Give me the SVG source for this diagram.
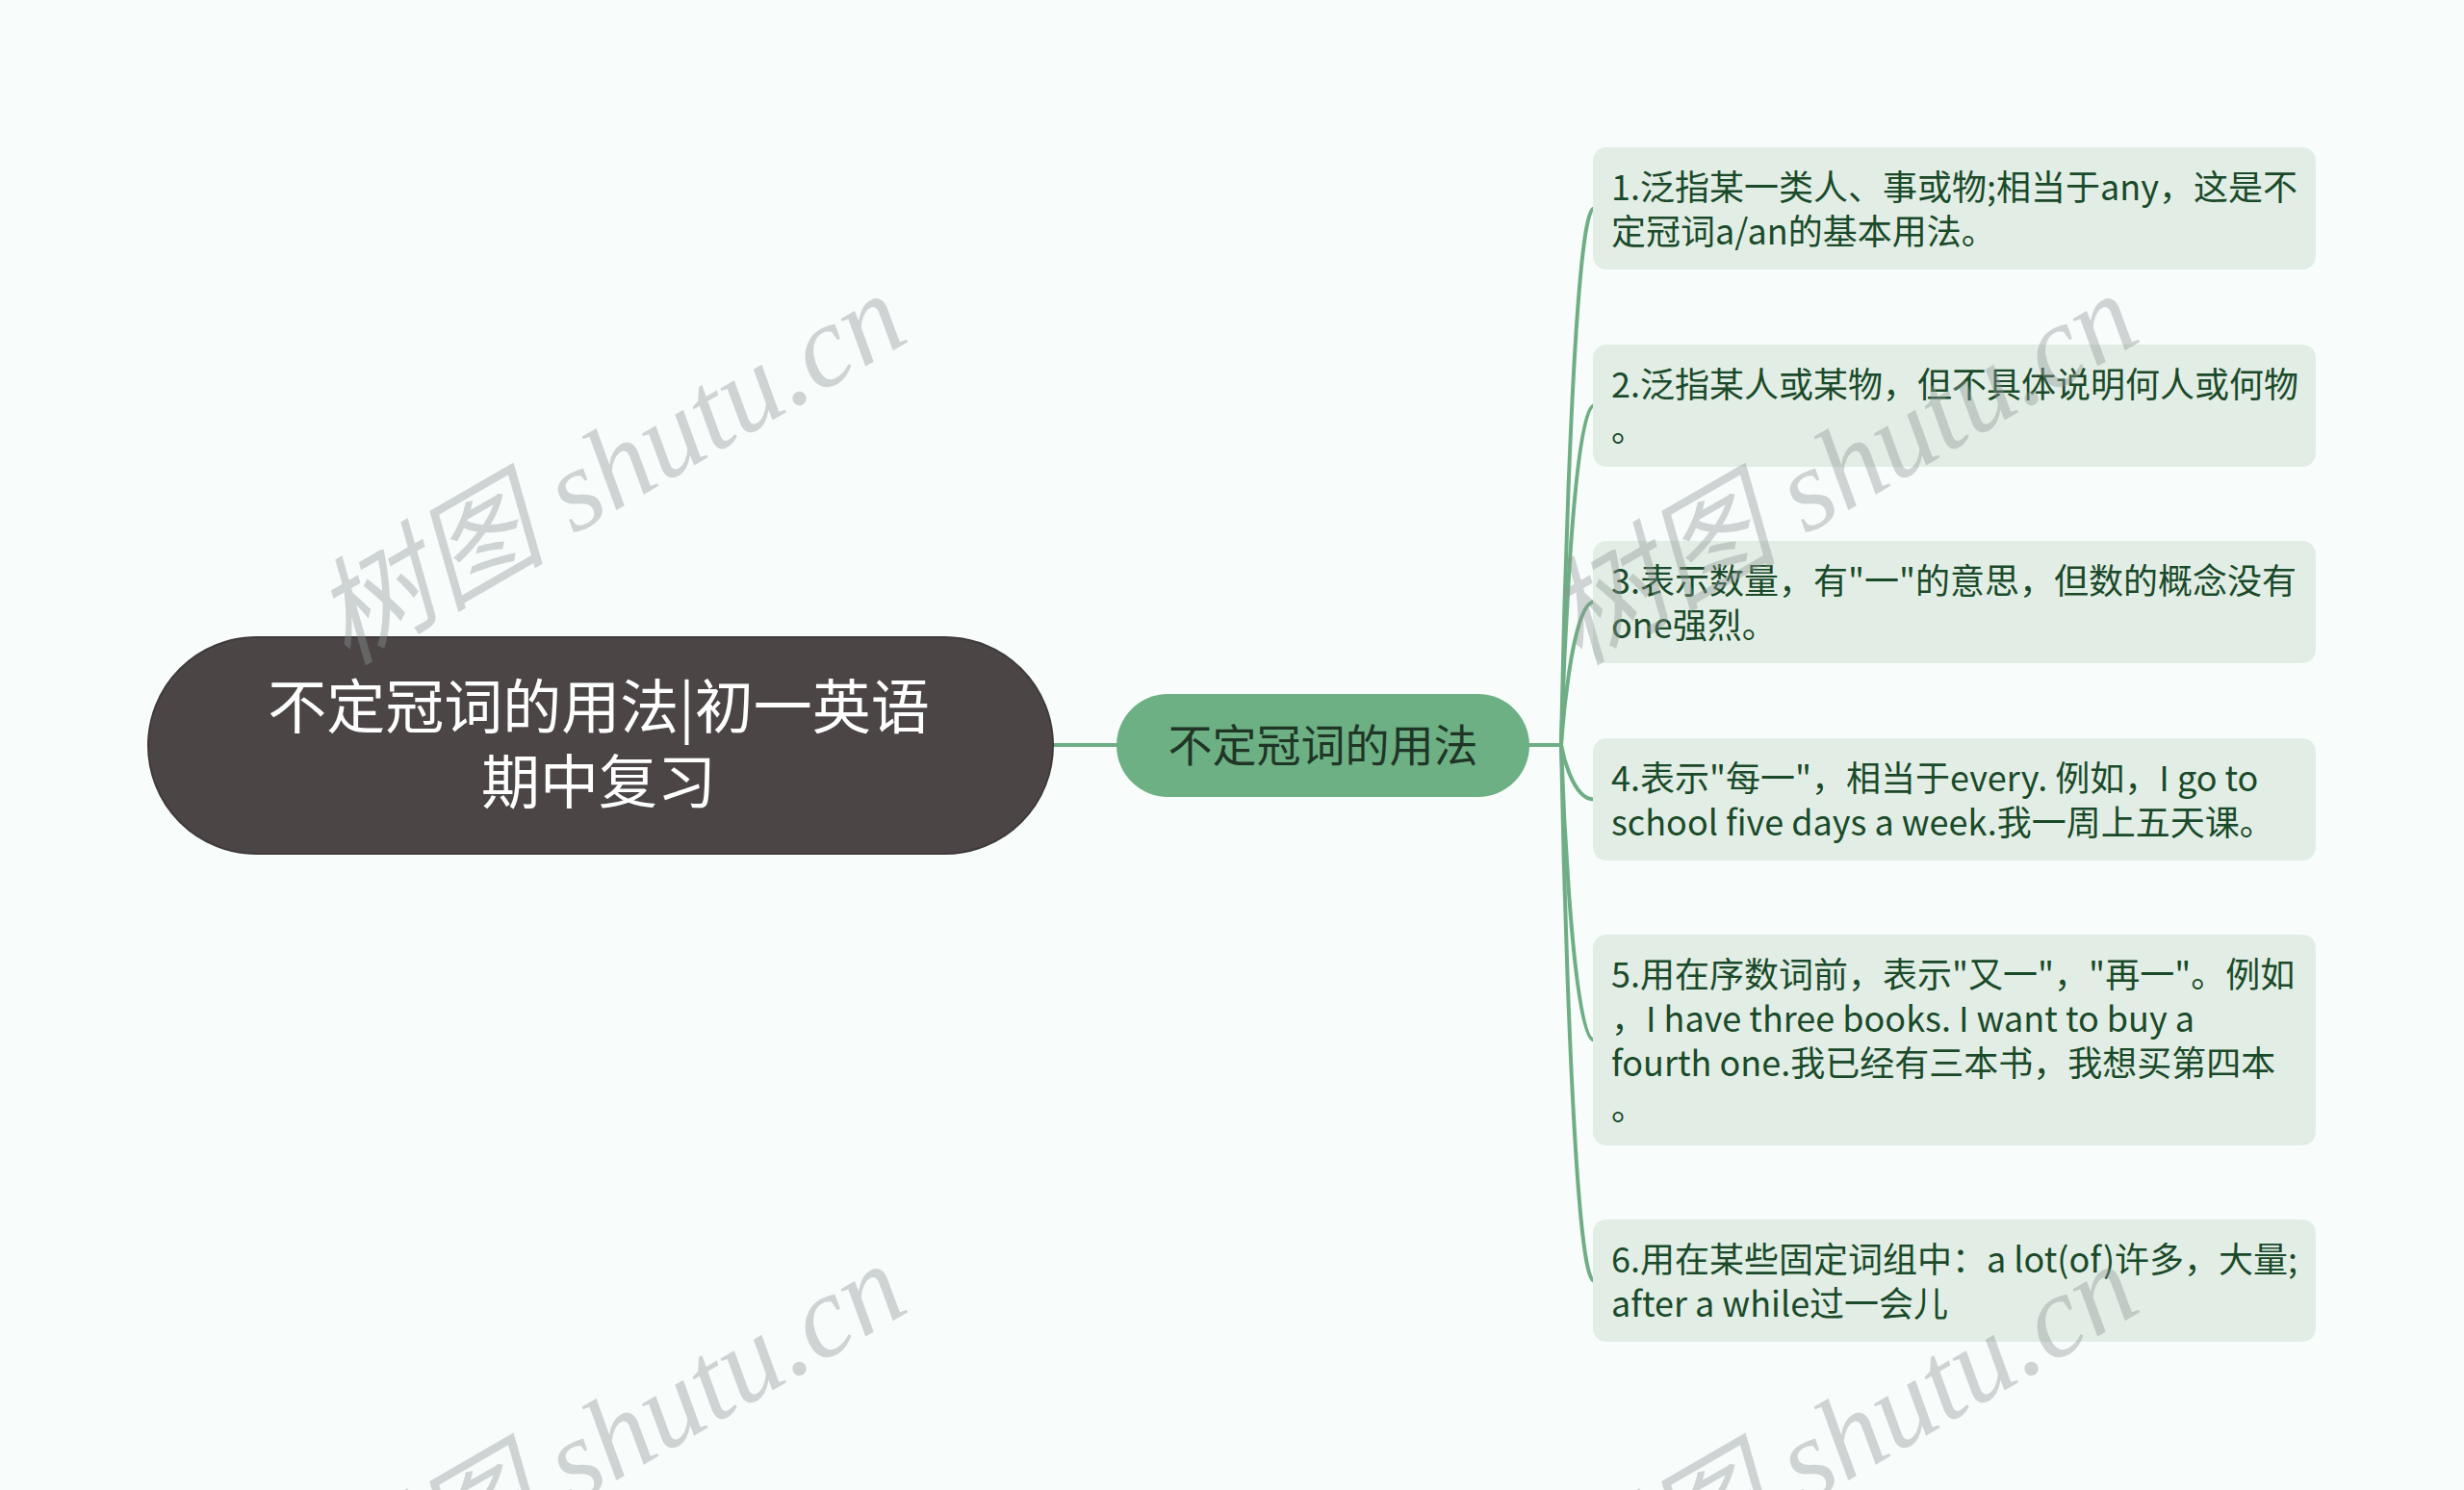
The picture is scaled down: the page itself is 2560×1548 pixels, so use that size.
<svg xmlns="http://www.w3.org/2000/svg" width="2560" height="1548" viewBox="0 0 2560 1548">
<style>
.bg{fill:#f8fdfc}
.conn{fill:none;stroke:#6fae84;stroke-width:4;stroke-linecap:round}
.root{fill:#4b4546;stroke:#3f3a3b;stroke-width:2}
.roottxt{fill:#ffffff;font-family:"Noto Sans CJK SC","Noto Sans",sans-serif;font-size:61px;text-anchor:middle}
.mid{fill:#6db084}
.midtxt{fill:#1f3526;font-family:"Noto Sans CJK SC","Noto Sans",sans-serif;font-size:46px;text-anchor:middle}
.leaf{fill:#e2eee5}
.leaftxt{fill:#1a4a2a;font-family:"Noto Sans CJK SC","Noto Sans",sans-serif;font-size:36px}
.wm{fill:#8e9696;fill-opacity:0.4;font-family:"Liberation Serif","Noto Sans CJK SC",serif;font-style:italic;font-size:121px}
</style>
<rect class="bg" x="0" y="0" width="2560" height="1548"/>
<g id="connectors">
<path class="conn" d="M1094 774 L1160 774"/>
<path class="conn" d="M1589 774 L1622 774"/>
<path class="conn" d="M1622 774 C1622 774 1632 216.5 1656 216.5"/>
<path class="conn" d="M1622 774 C1622 774 1632 421.5 1656 421.5"/>
<path class="conn" d="M1622 774 C1622 774 1632 625.5 1656 625.5"/>
<path class="conn" d="M1622 774 C1622 774 1632 830.5 1656 830.5"/>
<path class="conn" d="M1622 774 C1622 774 1632 1080.5 1656 1080.5"/>
<path class="conn" d="M1622 774 C1622 774 1632 1330.5 1656 1330.5"/>
</g>
<g id="root">
<rect class="root" x="154" y="662" width="940" height="225" rx="112.5" ry="112.5"/>
<text class="roottxt" x="622" y="757">不定冠词的用法|初一英语</text>
<text class="roottxt" x="622" y="835">期中复习</text>
</g>
<g id="mid">
<rect class="mid" x="1160" y="721" width="429" height="107" rx="53.5" ry="53.5"/>
<text class="midtxt" x="1374.5" y="791">不定冠词的用法</text>
</g>
<g id="leaf1">
<rect class="leaf" x="1655" y="153" width="751" height="127" rx="14"/>
<text class="leaftxt" x="1674" y="208">1.泛指某一类人、事或物;相当于any，这是不</text>
<text class="leaftxt" x="1674" y="254">定冠词a/an的基本用法。</text>
</g>
<g id="leaf2">
<rect class="leaf" x="1655" y="358" width="751" height="127" rx="14"/>
<text class="leaftxt" x="1674" y="413">2.泛指某人或某物，但不具体说明何人或何物</text>
<text class="leaftxt" x="1674" y="459">。</text>
</g>
<g id="leaf3">
<rect class="leaf" x="1655" y="562" width="751" height="127" rx="14"/>
<text class="leaftxt" x="1674" y="617">3.表示数量，有"一"的意思，但数的概念没有</text>
<text class="leaftxt" x="1674" y="663">one强烈。</text>
</g>
<g id="leaf4">
<rect class="leaf" x="1655" y="767" width="751" height="127" rx="14"/>
<text class="leaftxt" x="1674" y="822">4.表示"每一"，相当于every. 例如，I go to</text>
<text class="leaftxt" x="1674" y="868">school five days a week.我一周上五天课。</text>
</g>
<g id="leaf5">
<rect class="leaf" x="1655" y="971" width="751" height="219" rx="14"/>
<text class="leaftxt" x="1674" y="1026">5.用在序数词前，表示"又一"，"再一"。例如</text>
<text class="leaftxt" x="1674" y="1072">，I have three books. I want to buy a</text>
<text class="leaftxt" x="1674" y="1118">fourth one.我已经有三本书，我想买第四本</text>
<text class="leaftxt" x="1674" y="1164">。</text>
</g>
<g id="leaf6">
<rect class="leaf" x="1655" y="1267" width="751" height="127" rx="14"/>
<text class="leaftxt" x="1674" y="1322">6.用在某些固定词组中：a lot(of)许多，大量;</text>
<text class="leaftxt" x="1674" y="1368">after a while过一会儿</text>
</g>
<g id="watermarks">
<text class="wm" x="360" y="692" transform="rotate(-30 360 692)">树图 shutu.cn</text>
<text class="wm" x="1640" y="692" transform="rotate(-30 1640 692)">树图 shutu.cn</text>
<text class="wm" x="360" y="1700" transform="rotate(-30 360 1700)">树图 shutu.cn</text>
<text class="wm" x="1640" y="1700" transform="rotate(-30 1640 1700)">树图 shutu.cn</text>
</g>
</svg>
